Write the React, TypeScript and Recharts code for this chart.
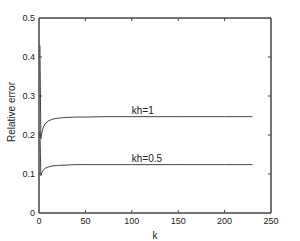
import { CartesianGrid, Line, LineChart, ReferenceLine, XAxis, YAxis } from "recharts"

const kValues = [1, 2, 3, 4, 5, 7, 10, 15, 20, 30, 40, 50, 70, 100, 150, 200, 230]
const kh1Values = [0.43, 0.19, 0.205, 0.215, 0.222, 0.23, 0.236, 0.241, 0.243, 0.245, 0.246, 0.246, 0.247, 0.247, 0.247, 0.247, 0.247]
const kh05Values = [0.21, 0.096, 0.103, 0.108, 0.111, 0.115, 0.118, 0.121, 0.122, 0.123, 0.124, 0.124, 0.124, 0.124, 0.124, 0.124, 0.124]
const xTicks = [0, 50, 100, 150, 200, 250]
const yTicks = [0, 0.1, 0.2, 0.3, 0.4, 0.5]
const labelK = 100

const data = kValues.map((k, i) => ({ k, kh1: kh1Values[i], kh05: kh05Values[i] }))

const FONT = "'Liberation Sans', Arial, sans-serif"
const PLOT_LEFT = 39
const PLOT_RIGHT = 271
const PLOT_TOP = 18
const PLOT_BOTTOM = 213
const AXIS_COLOR = "#444"

const XTick = (props: any) => {
    const { x, payload } = props
    const edge = payload.value === 0 || payload.value === 250
    return (
        <g>
            {!edge && <line x1={x} x2={x} y1={PLOT_BOTTOM} y2={PLOT_BOTTOM - 3} stroke={AXIS_COLOR} />}
            {!edge && <line x1={x} x2={x} y1={PLOT_TOP} y2={PLOT_TOP + 3} stroke={AXIS_COLOR} />}
            <text x={x} y={PLOT_BOTTOM + 5} dy="0.71em" textAnchor="middle" fontSize={9} fontFamily={FONT} fill="#222">
                {payload.value}
            </text>
        </g>
    )
}

const YTick = (props: any) => {
    const { y, payload } = props
    const edge = payload.value === 0 || payload.value === 0.5
    return (
        <g>
            {!edge && <line x1={PLOT_LEFT} x2={PLOT_LEFT + 3} y1={y} y2={y} stroke={AXIS_COLOR} />}
            {!edge && <line x1={PLOT_RIGHT} x2={PLOT_RIGHT - 3} y1={y} y2={y} stroke={AXIS_COLOR} />}
            <text x={PLOT_LEFT - 4} y={y} dy="0.35em" textAnchor="end" fontSize={9} fontFamily={FONT} fill="#222">
                {payload.value}
            </text>
        </g>
    )
}

const YLabel = () => (
    <text x={15} y={112} transform="rotate(-90 15 112)" textAnchor="middle" fontSize={10} fontFamily={FONT} fill="#222">
        Relative error
    </text>
)

const curveLabel = (text: string) => (props: any) => {
    const { x, y, index } = props
    if (kValues[index] !== labelK) return null
    return (
        <text x={x} y={y - 3} textAnchor="start" fontSize={10} fontFamily={FONT} fill="#222">
            {text}
        </text>
    )
}

const App = () => {
    return (
        <div style={{ position: "fixed", left: 0, top: 0, width: 300, height: 241, background: "#fff" }}>
            <LineChart
                width={300}
                height={241}
                data={data}
                margin={{ top: PLOT_TOP, right: 300 - PLOT_RIGHT, left: 0, bottom: 0 }}
            >
                <CartesianGrid stroke="none" />
                <XAxis
                    type="number"
                    dataKey="k"
                    domain={[0, 250]}
                    ticks={xTicks}
                    height={241 - PLOT_BOTTOM}
                    axisLine={{ stroke: AXIS_COLOR, strokeWidth: 1.5 }}
                    tickLine={false}
                    tick={<XTick />}
                    interval={0}
                    label={{ value: "k", position: "insideBottom", offset: 2, fontSize: 10, fontFamily: FONT, fill: "#222" }}
                />
                <YAxis
                    type="number"
                    domain={[0, 0.5]}
                    ticks={yTicks}
                    width={PLOT_LEFT}
                    axisLine={{ stroke: AXIS_COLOR, strokeWidth: 1.5 }}
                    tickLine={false}
                    tick={<YTick />}
                    interval={0}
                    label={<YLabel />}
                />
                <ReferenceLine y={0.5} stroke={AXIS_COLOR} strokeWidth={1.5} />
                <ReferenceLine x={250} stroke={AXIS_COLOR} strokeWidth={1.5} />
                <Line
                    type="linear"
                    dataKey="kh1"
                    stroke="#444"
                    strokeWidth={1}
                    dot={false}
                    isAnimationActive={false}
                    label={curveLabel("kh=1")}
                />
                <Line
                    type="linear"
                    dataKey="kh05"
                    stroke="#444"
                    strokeWidth={1}
                    dot={false}
                    isAnimationActive={false}
                    label={curveLabel("kh=0.5")}
                />
            </LineChart>
        </div>
    )
}

export default App
